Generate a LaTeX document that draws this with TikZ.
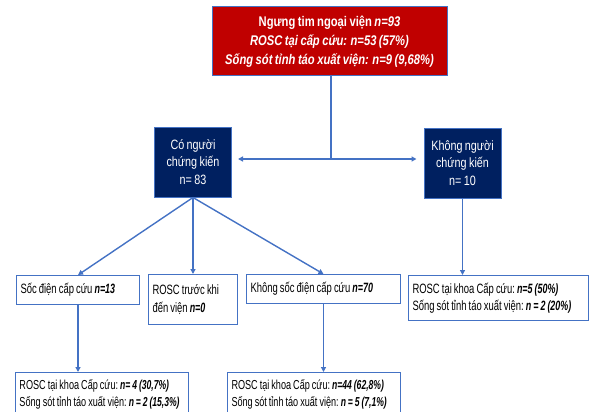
\documentclass[tikz,border=0pt]{standalone}
\usepackage{fontspec}
\setmainfont{Liberation Sans}[FakeStretch=0.8,WordSpace=0.8]
\newfontfamily\boxfont{Liberation Sans}[FakeStretch=0.7,WordSpace=0.8]
\newfontfamily\narrowbi{Liberation Sans}[FakeStretch=0.66,WordSpace=0.8]
\usetikzlibrary{arrows.meta}
\definecolor{boxred}{HTML}{C00000}
\definecolor{boxnavy}{HTML}{002060}
\definecolor{lineblue}{HTML}{4472C4}
\newcommand{\bi}[1]{{\narrowbi\bfseries\itshape #1}}
\tikzset{
  redbox/.style={rectangle,draw=lineblue,line width=1pt,fill=boxred,text=white,
    font=\fontsize{14}{19}\selectfont\bfseries,align=center,minimum width=235pt,minimum height=69pt},
  navybox/.style={rectangle,draw=lineblue,line width=1pt,fill=boxnavy,text=white,
    font=\fontsize{13.5}{17.5}\selectfont,align=center,minimum width=77pt,minimum height=70pt},
  whitebox/.style={rectangle,draw=lineblue,line width=1pt,fill=white,anchor=north west,
    font=\boxfont\fontsize{13.5}{17.5}\selectfont,align=left,inner sep=4pt,
    execute at begin node={\frenchspacing\spaceskip=0pt\xspaceskip=0pt}},
  link/.style={draw=lineblue,line width=1.4pt,-{Triangle[length=5pt,width=5pt]}}
}
\begin{document}
\begin{tikzpicture}[x=1pt,y=-1pt]
\useasboundingbox (0,0) rectangle (589,412);
\node[redbox] (OHCA) at (329.5,41.5) {Ngưng tim ngoại viện \textit{n=93}\\ \textit{ROSC tại cấp cứu: n=53 (57\%)}\\ \textit{Sống sót tỉnh táo xuất viện: n=9 (9,68\%)}};
\node[navybox] (CNCK) at (193,162) {Có người\\chứng kiến\\n= 83};
\node[navybox] (KNCK) at (462.5,163) {Không người\\chứng kiến\\n= 10};
\node[whitebox,text width=115pt,minimum height=29pt] (SD) at (16,275) {Sốc điện cấp cứu \bi{n=13}};
\node[whitebox,text width=81pt,minimum height=50pt] (RT) at (148,274) {ROSC trước khi\\đến viện \bi{n=0}};
\node[whitebox,text width=146pt,minimum height=29pt] (KSD) at (246,274) {Không sốc điện cấp cứu \bi{n=70}};
\node[whitebox,text width=172pt,minimum height=45pt] (KNKQ) at (408,275) {ROSC tại khoa Cấp cứu: \bi{n=5 (50\%)}\\Sống sót tỉnh táo xuất viện: \bi{n = 2 (20\%)}};
\node[whitebox,text width=165pt,minimum height=44pt,font=\boxfont\fontsize{13}{17.5}\selectfont] (SDKQ) at (15,372) {ROSC tại khoa Cấp cứu: \bi{n= 4 (30,7\%)}\\Sống sót tỉnh táo xuất viện: \bi{n = 2 (15,3\%)}};
\node[whitebox,text width=165pt,minimum height=44pt,font=\boxfont\fontsize{13}{17.5}\selectfont] (KSDKQ) at (227,372) {ROSC tại khoa Cấp cứu: \bi{n=44 (62,8\%)}\\Sống sót tỉnh táo xuất viện: \bi{n = 5 (7,1\%)}};
\coordinate (J) at (331,159);
\draw[link,-] (J |- OHCA.south) -- (J);
\draw[link] (J) -- ([xshift=6pt]J -| CNCK.east);
\draw[link] (J) -- ([xshift=-7pt]J -| KNCK.west);
\draw[link] (CNCK.south) -- (SD.north);
\draw[link] (CNCK.south) -- (RT.north);
\draw[link] (CNCK.south) -- (KSD.north);
\draw[link] (KNCK.south) -- (KNCK.south |- KNKQ.north);
\draw[link] (SD.south) -- (SD.south |- SDKQ.north);
\draw[link] (KSD.south) -- (KSD.south |- KSDKQ.north);
\end{tikzpicture}
\end{document}
